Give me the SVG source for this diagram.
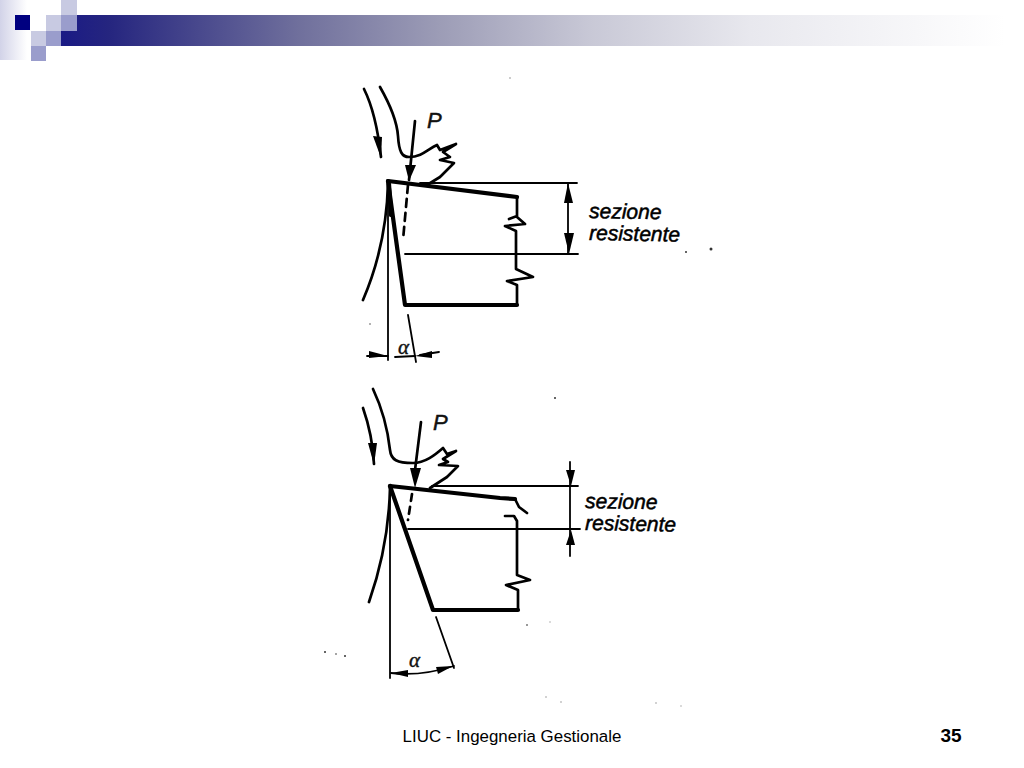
<svg xmlns="http://www.w3.org/2000/svg" width="1024" height="768" viewBox="0 0 1024 768">
<style>
.p{fill:none;stroke:#000;stroke-linejoin:round;stroke-linecap:round}
.t{stroke-width:1.8}.m{stroke-width:2.7}.b{stroke-width:4.2}
.h{fill:#000;stroke:none}
.lab{font-family:"Liberation Sans",Arial,sans-serif;font-style:italic;font-size:21px;fill:#000;stroke:#000;stroke-width:.5}
.sym{font-family:"Liberation Sans",Arial,sans-serif;font-style:italic;font-size:22px;fill:#111;stroke:#111;stroke-width:.5}
.gr{font-family:"Liberation Serif",serif;font-style:italic;font-size:21px;fill:#111;stroke:#111;stroke-width:.4}
.foot{font-family:"Liberation Sans",Arial,sans-serif;font-size:16.9px;fill:#000}
.speck{fill:#333}
</style>
<defs>
<linearGradient id="band" gradientUnits="userSpaceOnUse" x1="61" x2="1005" y1="0" y2="0"><stop offset="0" stop-color="#1a1a85"/><stop offset=".05" stop-color="#25257f"/><stop offset=".25" stop-color="#6f6f9c"/><stop offset=".4" stop-color="#9c9cb6"/><stop offset=".56" stop-color="#c8c8d6"/><stop offset=".73" stop-color="#e8e8ee"/><stop offset="1" stop-color="#ffffff"/></linearGradient>
<linearGradient id="side" x1="0" x2="1" y1="0" y2="0"><stop offset="0" stop-color="#d2d3e8"/><stop offset="1" stop-color="#ffffff"/></linearGradient>
</defs>
<rect width="1024" height="768" fill="#fff"/>
<g id="header">
<rect x="0" y="0" width="27" height="60" fill="url(#side)"/>
<rect x="61" y="15" width="945" height="31" fill="url(#band)"/>
<rect x="15" y="15" width="15" height="15" fill="#000080"/>
<rect x="46" y="15" width="15" height="16" fill="#c8cae2"/>
<rect x="61" y="0" width="16" height="15" fill="#c8cae2"/>
<rect x="61" y="15" width="16" height="16" fill="#9a9dcc"/>
<rect x="31" y="31" width="15" height="15" fill="#c8cae2"/>
<rect x="46" y="31" width="15" height="15" fill="#9a9dcc"/>
<rect x="31" y="46" width="15" height="15" fill="#9a9dcc"/>
</g>
<g id="figure-top">
<path class="p b" d="M388 181L517 197"/>
<path class="p m" d="M517 197V216L509 219M517 217L525 224L505 226L516 231V269L533 277L507 281L517 285V305"/>
<path class="p b" d="M517 305H405L388 181"/>
<path class="p b" d="M389 184L391 215"/>
<path class="p m" d="M388 183C387 225 378 265 363 300"/>
<path class="p t" d="M388 181V360"/>
<path class="p t" d="M420 183H577M405 254H578"/>
<path class="p t" d="M408 315L416 362"/>
<path class="p m" d="M364 89C372 105 378 130 381 157"/>
<polygon class="h" points="373,136 382,137 381,158"/>
<path class="p m" d="M380 87C392 108 397 122 398 136C399 152 402 157 409 157C422 157 428 149 437 145L440 150L456 144L443 152L450 157L440 160L454 163L440 177L427 185"/>
<path class="p m" d="M415 121L409 180"/>
<polygon class="h" points="405,165 416,165 409,181"/>
<path class="p m" d="M408 185L403 240" stroke-dasharray="8 6"/>
<path class="p t" d="M568 184V254"/>
<polygon class="h" points="568,183 573,203 564,203"/>
<polygon class="h" points="564,233 574,233 569,254"/>
<path class="p t" d="M367 356H388M395 357L415 356M420 355L439 352"/>
<polygon class="h" points="369,351 388,356 369,358"/>
<polygon class="h" points="415,356 432,351 432,358"/>
<text class="gr" x="398" y="354">α</text>
<text class="sym" x="427" y="128">P</text>
<text class="lab" x="589" y="218" transform="rotate(1 589 218)">sezione</text>
<text class="lab" x="589" y="240" transform="rotate(1 589 240)">resistente</text>
</g>
<g id="figure-bottom">
<path class="p b" d="M390 486L500 498L515 499"/>
<path class="p m" d="M515 499L519 507L527 513M505 516L514 516L517 521V575L530 580L506 585L518 590V610"/>
<path class="p b" d="M518 610H433L390 486"/>
<path class="p m" d="M390 488C389 530 382 565 369 602"/>
<path class="p t" d="M390 486V678"/>
<path class="p t" d="M432 486H578M408 529H580"/>
<path class="p t" d="M436 617L454 668"/>
<path class="p m" d="M363 408C369 425 373 445 374 464"/>
<polygon class="h" points="368,443 377,443 374,465"/>
<path class="p m" d="M373 389C382 408 388 432 390 450C391 460 397 463 413 463C425 463 435 455 443 448L447 454L456 451L443 459L448 462L439 465L458 466L447 477L430 488"/>
<path class="p m" d="M421 422L415 470"/>
<polygon class="h" points="410,468 421,468 415,488"/>
<path class="p m" d="M412 494L408 520" stroke-dasharray="7 6"/>
<path class="p t" d="M570 462V556"/>
<polygon class="h" points="566,470 575,470 571,486"/>
<polygon class="h" points="571,530 575,545 566,545"/>
<path class="p t" d="M391 673C415 676 435 672 454 666"/>
<polygon class="h" points="391,673 408,670 408,677"/>
<polygon class="h" points="453,666 436,667 438,674"/>
<text class="gr" x="409" y="667">α</text>
<text class="sym" x="433" y="430">P</text>
<text class="lab" x="585" y="508" transform="rotate(1 585 508)">sezione</text>
<text class="lab" x="585" y="530" transform="rotate(1 585 530)">resistente</text>
</g>
<g id="specks">
<circle class="speck" cx="686" cy="252" r="1"/><circle class="speck" cx="711" cy="249" r="1.5"/>
<circle cx="510" cy="78" r="1" fill="#bbb"/><circle cx="370" cy="324" r="1" fill="#999"/>
<circle class="speck" cx="555" cy="398" r="1"/><circle cx="527" cy="625" r="1" fill="#777"/><circle cx="550" cy="622" r=".8" fill="#aaa"/>
<circle class="speck" cx="325" cy="652" r="1"/><circle class="speck" cx="336" cy="654" r=".8"/><circle class="speck" cx="345" cy="656" r="1"/>
<circle cx="546" cy="697" r=".8" fill="#999"/><circle cx="561" cy="702" r=".8" fill="#999"/><circle cx="656" cy="703" r=".8" fill="#999"/><circle cx="681" cy="706" r=".8" fill="#aaa"/>
</g>
<g id="footer">
<text class="foot" x="512" y="742" text-anchor="middle">LIUC - Ingegneria Gestionale</text>
<text class="foot" x="951" y="742" text-anchor="middle" font-weight="bold" style="font-size:19px">35</text>
</g>
</svg>
